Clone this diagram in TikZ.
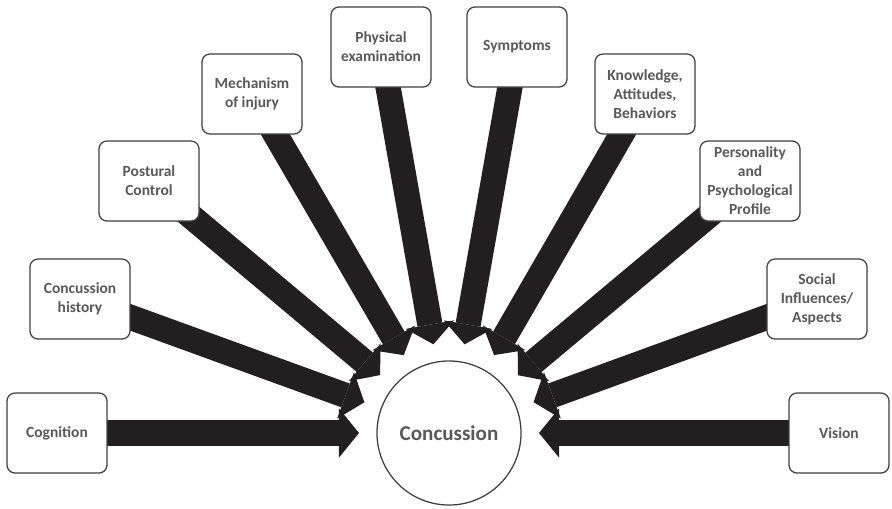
\documentclass[tikz,border=0pt]{standalone}
\usepackage{fontspec}
\setmainfont{Carlito}
\usepackage{xcolor}
\usepackage{tikz}
\usetikzlibrary{arrows.meta,calc,backgrounds}
\definecolor{labelgray}{RGB}{89,89,89}
\definecolor{framegray}{RGB}{64,64,64}
\definecolor{arrowblack}{RGB}{35,31,32}

\begin{document}
\begin{tikzpicture}[
    x=0.025cm, y=-0.025cm,
    factor/.style={rectangle, draw=framegray, line width=0.9pt, rounded corners=0.2cm, fill=white,
        minimum width=2.5cm, minimum height=2cm, inner sep=1pt, align=center, text=labelgray,
        font=\fontsize{11}{13.5}\selectfont\bfseries},
    hub/.style={circle, draw=framegray, line width=0.9pt, fill=white, minimum size=3.6cm,
        text=labelgray, font=\fontsize{15}{18}\selectfont\bfseries},
    bigarrow/.style={draw=arrowblack, line width=0.63cm, shorten <=-0.4cm,
        -{Triangle[length=0.5cm, width=1.23cm, line width=0pt]}}
]
    \useasboundingbox (0,0) rectangle (892,508);

    % Nodes
    \node[hub] (conc) at (449,433) {Concussion};
    \node[factor] (cog) at (57,433) {Cognition};
    \node[factor] (hist) at (80,299) {Concussion\\history};
    \node[factor] (post) at (149,181) {Postural\\Control};
    \node[factor] (mech) at (252,94) {Mechanism\\of injury};
    \node[factor] (phys) at (381,47) {Physical\\examination};
    \node[factor] (symp) at (517,47) {Symptoms};
    \node[factor] (know) at (645,94) {Knowledge,\\Attitudes,\\Behaviors};
    \node[factor] (pers) at (750,181) {Personality\\and\\Psychological\\Profile};
    \node[factor] (soc) at (817,299) {Social\\Influences/\\Aspects};
    \node[factor] (vis) at (839,433) {Vision};

    % Arrows
    \begin{scope}[on background layer]
        \foreach \n in {cog,hist,post,mech,phys,symp,know,pers,soc,vis} {
            \coordinate (\n-tip) at ($(conc)!2.25cm!(\n)$);
            \draw[bigarrow] (\n) -- (\n-tip);
        }
    \end{scope}

\end{tikzpicture}
\end{document}
